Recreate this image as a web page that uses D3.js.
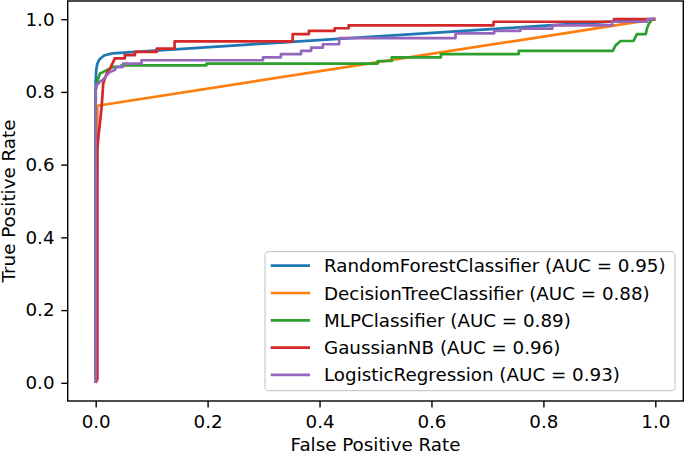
<!DOCTYPE html>
<html>
<head>
<meta charset="utf-8">
<script src="https://cdn.jsdelivr.net/npm/d3@7"></script>
<style>
  body { margin: 0; background: white; }
  text { font-family: "DejaVu Sans", sans-serif; fill: black; }
</style>
</head>
<body>
<div id="graf"></div>
<script>
// Datos (fpr, tpr)
const rfFpr = [0, 0, 0.001, 0.003, 0.007, 0.015, 0.03, 0.3, 0.63, 0.81, 0.9, 1]
const rfTpr = [0, 0.83, 0.86, 0.878, 0.89, 0.9, 0.906, 0.933, 0.965, 0.983, 0.991, 1]

const dtFpr = [0, 0.003, 1]
const dtTpr = [0, 0.762, 1]

const mlpFpr = [0, 0, 0.002, 0.0046, 0.0077, 0.0135, 0.0196, 0.0255, 0.031, 0.046, 0.046, 0.198, 0.198, 0.504, 0.504, 0.529, 0.529, 0.617, 0.617, 0.756, 0.756, 0.924, 0.929, 0.938, 0.961, 0.967, 0.983, 0.985, 0.988, 0.994, 1]
const mlpTpr = [0, 0.805, 0.823, 0.837, 0.851, 0.855, 0.86, 0.864, 0.869, 0.869, 0.873, 0.873, 0.878, 0.878, 0.885, 0.885, 0.895, 0.895, 0.904, 0.904, 0.913, 0.913, 0.928, 0.94, 0.94, 0.959, 0.959, 0.974, 0.986, 1, 1]

const nbFpr = [0, 0.003, 0.003, 0.005, 0.008, 0.0107, 0.0135, 0.0196, 0.0255, 0.0344, 0.034, 0.052, 0.052, 0.07, 0.07, 0.109, 0.109, 0.141, 0.141, 0.352, 0.352, 0.381, 0.381, 0.427, 0.427, 0.452, 0.452, 0.711, 0.711, 0.926, 0.926, 0.982, 1]
const nbTpr = [0, 0.01, 0.64, 0.68, 0.72, 0.76, 0.823, 0.851, 0.864, 0.892, 0.892, 0.892, 0.901, 0.901, 0.91, 0.91, 0.919, 0.919, 0.939, 0.939, 0.959, 0.959, 0.968, 0.968, 0.975, 0.975, 0.983, 0.983, 0.993, 0.993, 1, 1, 1]

const lrFpr = [0, 0, 0.002, 0.0077, 0.0135, 0.0196, 0.0255, 0.034, 0.037, 0.049, 0.049, 0.082, 0.082, 0.299, 0.299, 0.331, 0.331, 0.367, 0.367, 0.385, 0.385, 0.406, 0.406, 0.435, 0.435, 0.643, 0.643, 0.712, 0.712, 0.759, 0.759, 0.816, 0.816, 0.923, 0.923, 0.985, 0.985, 1]
const lrTpr = [0, 0.805, 0.819, 0.828, 0.834, 0.846, 0.855, 0.86, 0.869, 0.869, 0.878, 0.878, 0.887, 0.887, 0.895, 0.895, 0.904, 0.904, 0.913, 0.913, 0.922, 0.922, 0.931, 0.931, 0.948, 0.948, 0.961, 0.961, 0.968, 0.968, 0.974, 0.974, 0.983, 0.983, 0.993, 0.993, 1, 1]

const nombres = ['RandomForestClassifier', 'DecisionTreeClassifier', 'MLPClassifier', 'GaussianNB', 'LogisticRegression']
const aucs = ['0.95', '0.88', '0.89', '0.96', '0.93']
const colores = ['#1f77b4', '#ff7f0e', '#2ca02c', '#d62728', '#9467bd']
const ticks = [0, 0.2, 0.4, 0.6, 0.8, 1.0]

const series = [
  [rfFpr, rfTpr], [dtFpr, dtTpr], [mlpFpr, mlpTpr], [nbFpr, nbTpr], [lrFpr, lrTpr]
].map(([f, t], i) => ({
  nombre: nombres[i],
  auc: aucs[i],
  color: colores[i],
  puntos: f.map((d, j) => ({ x: d, y: t[j] }))
}))

// Dimensiones
const anchoTotal = 685
const altoTotal = 453
const margins = { top: 1, right: 1.7, bottom: 52, left: 67.7 }
const ancho = anchoTotal - margins.left - margins.right
const alto = altoTotal - margins.top - margins.bottom
const fs = 18.3

const svg = d3.select('#graf')
  .append('svg')
  .attr('width', anchoTotal)
  .attr('height', altoTotal)

const g = svg.append('g')
  .attr('transform', `translate(${margins.left}, ${margins.top})`)

// Escaladores
const x = d3.scaleLinear().domain([-0.05, 1.05]).range([0, ancho])
const y = d3.scaleLinear().domain([-0.05, 1.05]).range([alto, 0])

// Lineas
const line = d3.line().x((d) => x(d.x)).y((d) => y(d.y))

g.selectAll('.line')
  .data(series)
  .enter()
  .append('path')
  .attr('class', 'line')
  .attr('fill', 'none')
  .attr('stroke', (d) => d.color)
  .attr('stroke-width', 2.7)
  .attr('stroke-linejoin', 'round')
  .attr('d', (d) => line(d.puntos))

// Ejes
const xAxisGroup = g.append('g')
  .attr('transform', `translate(0, ${alto})`)
  .call(d3.axisBottom(x).tickValues(ticks).tickFormat(d3.format('.1f')).tickSize(6.4).tickPadding(7.4))

const yAxisGroup = g.append('g')
  .call(d3.axisLeft(y).tickValues(ticks).tickFormat(d3.format('.1f')).tickSize(6.4).tickPadding(6.8))

;[xAxisGroup, yAxisGroup].forEach((ax) => {
  ax.select('.domain').remove()
  ax.selectAll('.tick line').attr('stroke', 'black').attr('stroke-width', 1.4)
  ax.selectAll('.tick text').attr('font-size', fs).attr('font-family', 'DejaVu Sans').attr('fill', 'black')
})

// Marco
g.append('rect')
  .attr('width', ancho)
  .attr('height', alto)
  .attr('fill', 'none')
  .attr('stroke', 'black')
  .attr('stroke-width', 1.4)

// Leyenda
const leyenda = svg.append('g')

leyenda.append('rect')
  .attr('x', 265)
  .attr('y', 251.7)
  .attr('width', 410)
  .attr('height', 139)
  .attr('rx', 4)
  .attr('fill', 'white')
  .attr('fill-opacity', 0.8)
  .attr('stroke', '#cccccc')
  .attr('stroke-width', 1.2)

const items = leyenda.selectAll('.item')
  .data(series)
  .enter()
  .append('g')
  .attr('transform', (d, i) => `translate(0, ${265.7 + i * 27.3})`)

items.append('line')
  .attr('x1', 270.7)
  .attr('x2', 310)
  .attr('stroke', (d) => d.color)
  .attr('stroke-width', 2.7)

items.append('text')
  .attr('x', 324)
  .attr('y', 6.5)
  .attr('font-size', fs)
  .text((d) => `${d.nombre} (AUC = ${d.auc})`)

// Titulos de ejes
svg.append('text')
  .attr('x', margins.left + ancho / 2)
  .attr('y', 451)
  .attr('text-anchor', 'middle')
  .attr('font-size', fs)
  .text('False Positive Rate')

svg.append('text')
  .attr('transform', `translate(14.8, ${margins.top + alto / 2}) rotate(-90)`)
  .attr('text-anchor', 'middle')
  .attr('font-size', fs)
  .text('True Positive Rate')
</script>
</body>
</html>
